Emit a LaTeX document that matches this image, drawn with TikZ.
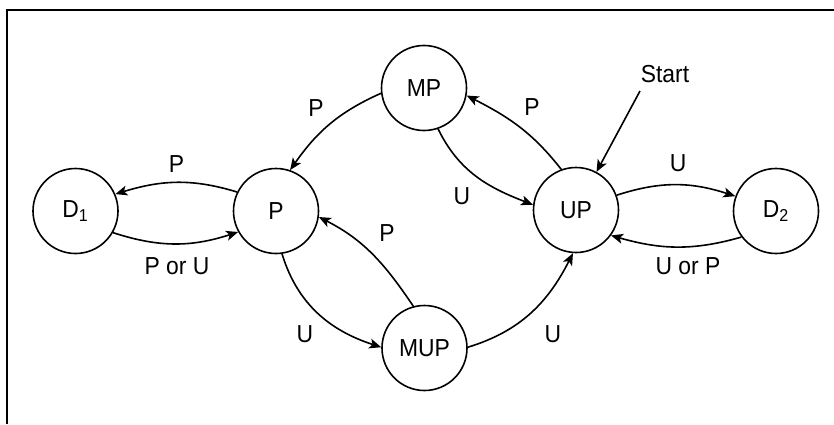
\documentclass[tikz,border=0pt]{standalone}
\usepackage{fontspec}
\setmainfont{Liberation Sans}[FakeStretch=0.93]
\usetikzlibrary{arrows.meta}
\begin{document}
\begin{tikzpicture}[x=0.5pt,y=0.5pt,
  state/.style={circle,draw,line width=0.8pt,minimum size=42.5pt,inner sep=0pt,
    font=\fontsize{12.3}{14}\selectfont},
  lbl/.style={inner sep=0pt,font=\fontsize{12.3}{14}\selectfont},
  trans/.style={line width=0.8pt,-{Stealth[length=6pt,width=5pt,inset=1.5pt]}},
]
\useasboundingbox (0,0) rectangle (834,424);
% frame (top and left edges)
\draw[line width=1pt] (7,0) -- (7,413.5) -- (834,413.5);

% states
\node[state] (D1)  at (75.5,213) {D\textsubscript{1}};
\node[state] (P)   at (276,213)  {P};
\node[state] (MP)  at (424,336)  {MP};
\node[state] (UP)  at (576,214)  {UP};
\node[state] (D2)  at (776,213)  {D\textsubscript{2}};
\node[state] (MUP) at (424.5,76) {MUP};

% start marker
\node[lbl] (start) at (665,350) {Start};
\coordinate (s0) at (640,333);
\draw[trans] (s0) -- (UP);

% transitions
\draw[trans] (P.154)   to[out=163,in=17]  (D1.23);
\draw[trans] (D1.-30)  to[out=-18,in=198] (P.209);
\draw[trans] (MP.187)  to[out=204,in=55]  (P.71);
\draw[trans] (UP.110)  to[out=128,in=-27] (MP.-10);
\draw[trans] (MP.-71)  to[out=-64,in=159] (UP.173);
\draw[trans] (UP.20)   to[out=18,in=162]  (D2.160);
\draw[trans] (D2.217)  to[out=196,in=-16] (UP.-36);
\draw[trans] (P.-82)   to[out=-73,in=162] (MUP.179);
\draw[trans] (MUP.105) to[out=124,in=-27] (P.-8);
\draw[trans] (MUP.1)   to[out=17,in=243]  (UP.266);

% transition labels
\node[lbl] (l1)  at (176.5,260) {P};
\node[lbl] (l2)  at (177,158)   {P or U};
\node[lbl] (l3)  at (316,316)   {P};
\node[lbl] (l4)  at (532,317)   {P};
\node[lbl] (l5)  at (462,228)   {U};
\node[lbl] (l6)  at (678,261)   {U};
\node[lbl] (l7)  at (688,158)   {U or P};
\node[lbl] (l8)  at (305,90)    {U};
\node[lbl] (l9)  at (387,191)   {P};
\node[lbl] (l10) at (553,90)    {U};
\end{tikzpicture}
\end{document}
